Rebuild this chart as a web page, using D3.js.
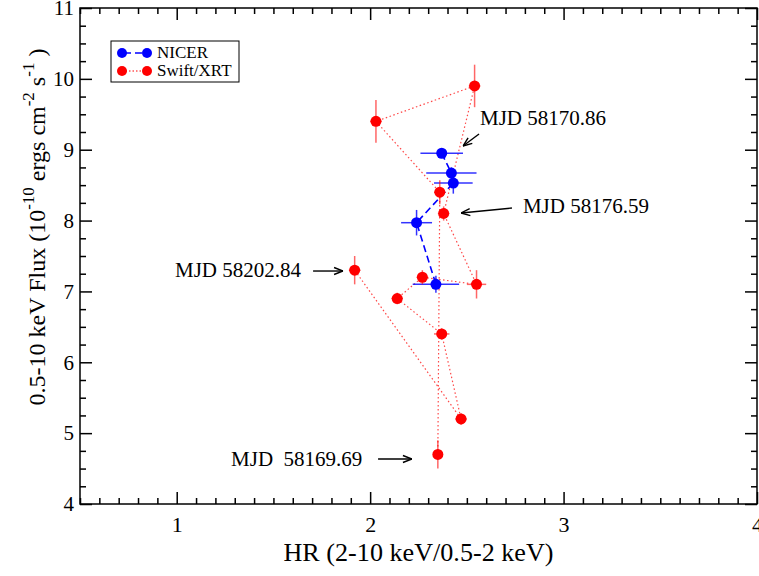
<!DOCTYPE html>
<html>
<head>
<meta charset="utf-8">
<script src="https://cdn.jsdelivr.net/npm/d3@7"></script>
<style>
  body { margin: 0; background: #fff; }
  svg { display: block; font-family: "Liberation Serif", "DejaVu Serif", serif; }
  svg text { font-family: "Liberation Serif", "DejaVu Serif", serif; }
</style>
</head>
<body>
<svg width="759" height="576"></svg>
<script>
// NICER points, in time order
const nicerHR   = [2.37, 2.42, 2.43, 2.24, 2.34];
const nicerHRe  = [0.11, 0.13, 0.10, 0.08, 0.12];
const nicerFlux = [8.95, 8.67, 8.53, 7.97, 7.10];
const nicerFe   = [0.06, 0.08, 0.15, 0.18, 0.12];

// Swift/XRT points, in time order
const swiftHR   = [2.35, 2.36, 2.03, 2.54, 2.38, 2.55, 2.27, 2.14, 2.37, 2.47, 1.92];
const swiftHRe  = [0.02, 0.03, 0.03, 0.03, 0.03, 0.05, 0.03, 0.03, 0.04, 0.03, 0.03];
const swiftFlux = [4.70, 8.40, 9.40, 9.90, 8.10, 7.10, 7.20, 6.90, 6.40, 5.20, 7.30];
const swiftFe   = [0.20, 0.17, 0.30, 0.30, 0.10, 0.20, 0.10, 0.08, 0.08, 0.08, 0.20];

const xTicks = [1, 2, 3, 4];
const yTicks = [4, 5, 6, 7, 8, 9, 10, 11];

// labels with arrows (data units)
const notes = [
  {text: "MJD 58170.86",  tx: 2.568, ty: 9.35,  x1: 2.563, y1: 9.222, x2: 2.480, y2: 9.052},
  {text: "MJD 58176.59",  tx: 2.790, ty: 8.107, x1: 2.733, y1: 8.177, x2: 2.470, y2: 8.107},
  {text: "MJD 58202.84",  tx: 0.991, ty: 7.204, x1: 1.705, y1: 7.288, x2: 1.860, y2: 7.288},
  {text: "MJD\u00a0\u00a058169.69", tx: 1.281, ty: 4.536, x1: 2.041, y1: 4.635, x2: 2.216, y2: 4.635}
];

const svg = d3.select("svg"),
    margin = {top: 8, right: 2, bottom: 72, left: 80},
    width = +svg.attr("width") - margin.left - margin.right,
    height = +svg.attr("height") - margin.top - margin.bottom;

const x = d3.scaleLinear().domain([0.5, 4]).range([0, width]),
    y = d3.scaleLinear().domain([4, 11]).range([height, 0]);

const g = svg.append("g")
    .attr("transform", `translate(${margin.left},${margin.top})`);

const xMinor = d3.range(5, 41).map(d => d / 10).filter(d => !xTicks.includes(d));
const yMinor = d3.range(16, 45).map(d => d / 4).filter(d => !yTicks.includes(d));

function styleAxis(sel, size) {
    sel.attr("font-family", null);
    sel.select(".domain").remove();
    sel.selectAll("line").attr("stroke", "#000").attr("stroke-width", 1.5);
    sel.selectAll("text")
        .style("font-family", "'Liberation Serif', serif")
        .style("font-size", (size || 20) + "px").attr("fill", "#000");
}

// major + minor ticks on all four sides, pointing inward
g.append("g").attr("transform", `translate(0,${height})`)
    .call(d3.axisBottom(x).tickValues(xTicks).tickSizeInner(-12).tickPadding(12).tickFormat(d3.format("d")))
    .call(styleAxis, 22);
g.append("g").attr("transform", `translate(0,${height})`)
    .call(d3.axisBottom(x).tickValues(xMinor).tickSize(-6).tickFormat(""))
    .call(styleAxis);
g.append("g")
    .call(d3.axisTop(x).tickValues(xTicks).tickSize(-12).tickFormat(""))
    .call(styleAxis);
g.append("g")
    .call(d3.axisTop(x).tickValues(xMinor).tickSize(-6).tickFormat(""))
    .call(styleAxis);
g.append("g")
    .call(d3.axisLeft(y).tickValues(yTicks).tickSizeInner(-12).tickPadding(6).tickFormat(d3.format("d")))
    .call(styleAxis, 21);
g.append("g")
    .call(d3.axisLeft(y).tickValues(yMinor).tickSize(-6).tickFormat(""))
    .call(styleAxis);
g.append("g").attr("transform", `translate(${width},0)`)
    .call(d3.axisRight(y).tickValues(yTicks).tickSize(-12).tickFormat(""))
    .call(styleAxis);
g.append("g").attr("transform", `translate(${width},0)`)
    .call(d3.axisRight(y).tickValues(yMinor).tickSize(-6).tickFormat(""))
    .call(styleAxis);

// frame
g.append("rect")
    .attr("width", width).attr("height", height)
    .attr("fill", "none").attr("stroke", "#000").attr("stroke-width", 1.5);

const swift = swiftHR.map((h, i) => ({x: h, xe: swiftHRe[i], y: swiftFlux[i], ye: swiftFe[i]}));
const nicer = nicerHR.map((h, i) => ({x: h, xe: nicerHRe[i], y: nicerFlux[i], ye: nicerFe[i]}));

const line = d3.line().x(d => x(d.x)).y(d => y(d.y));

// Swift connecting line (dotted)
g.append("path").datum(swift)
    .attr("d", line)
    .attr("fill", "none")
    .attr("stroke", "rgba(255,40,40,0.85)")
    .attr("stroke-width", 1.2)
    .attr("stroke-dasharray", "1.5,2.5");

function drawSeries(data, color, errColor) {
    const eg = g.append("g").attr("stroke", errColor).attr("stroke-width", 1.5);
    eg.selectAll(".ex").data(data).enter().append("line")
        .attr("x1", d => x(d.x - d.xe)).attr("x2", d => x(d.x + d.xe))
        .attr("y1", d => y(d.y)).attr("y2", d => y(d.y));
    eg.selectAll(".ey").data(data).enter().append("line")
        .attr("x1", d => x(d.x)).attr("x2", d => x(d.x))
        .attr("y1", d => y(d.y - d.ye)).attr("y2", d => y(d.y + d.ye));
    g.append("g").selectAll("circle").data(data).enter().append("circle")
        .attr("cx", d => x(d.x)).attr("cy", d => y(d.y))
        .attr("r", 5.5).attr("fill", color);
}

// NICER connecting line (dashed)
g.append("path").datum(nicer)
    .attr("d", line)
    .attr("fill", "none")
    .attr("stroke", "#0000ff")
    .attr("stroke-width", 1.6)
    .attr("stroke-dasharray", "7,4");

drawSeries(nicer, "#0000ff", "rgba(0,0,255,0.8)");
drawSeries(swift, "#ff0000", "rgba(255,0,0,0.6)");

// arrows + labels
svg.append("defs").append("marker")
    .attr("id", "arr")
    .attr("viewBox", "0 0 10 10")
    .attr("refX", 10).attr("refY", 5)
    .attr("markerWidth", 10).attr("markerHeight", 10)
    .attr("markerUnits", "userSpaceOnUse")
    .attr("orient", "auto")
    .append("path")
    .attr("d", "M1,1.5 L10,5 L1,8.5")
    .attr("fill", "none").attr("stroke", "#000").attr("stroke-width", 1.4);

notes.forEach(n => {
    g.append("line")
        .attr("x1", x(n.x1)).attr("y1", y(n.y1))
        .attr("x2", x(n.x2)).attr("y2", y(n.y2))
        .attr("stroke", "#000").attr("stroke-width", 1.4)
        .attr("marker-end", "url(#arr)");
    g.append("text")
        .attr("x", x(n.tx)).attr("y", y(n.ty))
        .style("font-size", "21px")
        .text(n.text);
});

// legend
const lg = svg.append("g").attr("transform", "translate(111,41)");
lg.append("rect").attr("width", 128).attr("height", 41)
    .attr("fill", "#fff").attr("stroke", "#000").attr("stroke-width", 1);
const legendItems = [
    {label: "NICER", color: "#0000ff", dash: "7,4", w: 1.6, yy: 12},
    {label: "Swift/XRT", color: "#ff0000", dash: "1.5,2", w: 1, yy: 30}
];
legendItems.forEach(it => {
    lg.append("line").attr("x1", 11).attr("x2", 36).attr("y1", it.yy).attr("y2", it.yy)
        .attr("stroke", it.color).attr("stroke-width", it.w).attr("stroke-dasharray", it.dash)
        .attr("stroke-dashoffset", it.label === "NICER" ? -2 : 0);
    lg.append("circle").attr("cx", 11).attr("cy", it.yy).attr("r", 5).attr("fill", it.color);
    lg.append("circle").attr("cx", 36).attr("cy", it.yy).attr("r", 5).attr("fill", it.color);
    lg.append("text").attr("x", 46).attr("y", it.yy + 5).style("font-size", "17px").text(it.label);
});

// axis titles
svg.append("text")
    .attr("x", margin.left + x(2.25)).attr("y", 561)
    .attr("text-anchor", "middle")
    .attr("textLength", 270)
    .attr("lengthAdjust", "spacingAndGlyphs")
    .style("font-size", "25px")
    .text("HR (2-10 keV/0.5-2 keV)");

const yl = svg.append("text")
    .attr("transform", "translate(45,227) rotate(-90)")
    .attr("text-anchor", "middle")
    .style("font-size", "24px");
yl.append("tspan").text("0.5-10 keV Flux (10");
yl.append("tspan").attr("dy", -11).style("font-size", "17px").text("-10");
yl.append("tspan").attr("dy", 11).text(" ergs cm");
yl.append("tspan").attr("dy", -11).style("font-size", "17px").text("-2");
yl.append("tspan").attr("dy", 11).text(" s");
yl.append("tspan").attr("dy", -11).style("font-size", "17px").text("-1");
yl.append("tspan").attr("dy", 11).text(" )");
</script>
</body>
</html>
